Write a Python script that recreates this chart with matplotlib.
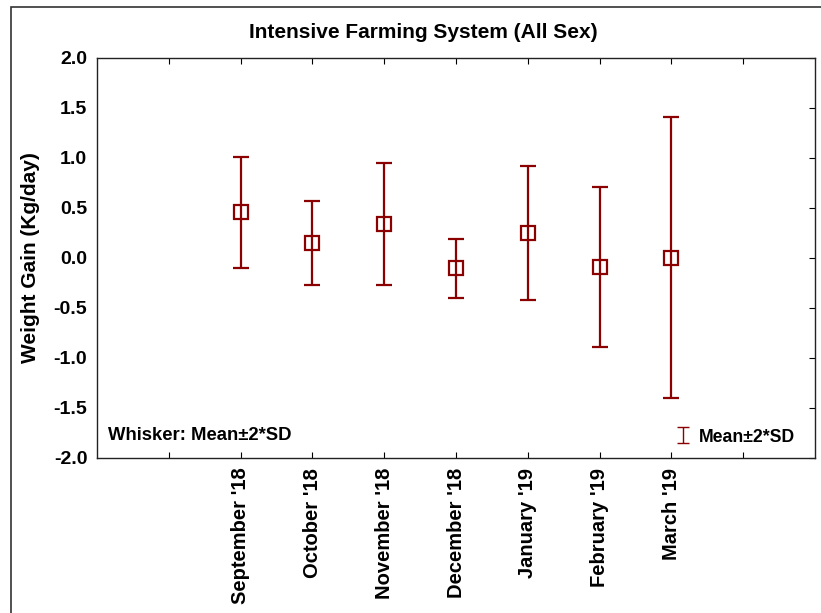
import matplotlib
matplotlib.use("Agg")
import matplotlib.pyplot as plt
from matplotlib.path import Path
from matplotlib.lines import Line2D
from matplotlib.patches import Rectangle

plt.rcParams['font.family'] = ['Liberation Sans', 'DejaVu Sans']
plt.rcParams['font.weight'] = 'bold'

months = ["September '18", "October '18", "November '18", "December '18",
          "January '19", "February '19", "March '19"]
means = [0.46, 0.155, 0.34, -0.10, 0.25, -0.09, 0.005]
two_sd = [0.555, 0.42, 0.61, 0.295, 0.67, 0.80, 1.408]
y_ticks = [-2.0, -1.5, -1.0, -0.5, 0.0, 0.5, 1.0, 1.5, 2.0]

color = '#8b0000'
W, H = 821, 613
fig = plt.figure(figsize=(W / 100, H / 100), dpi=100)

# outer frame of the figure
fig.patches.append(Rectangle((11 / W, -0.1), 1.2, (H - 7) / H + 0.1,
                             transform=fig.transFigure, fill=False,
                             edgecolor='#333333', linewidth=1.2))

ax = fig.add_axes([97 / W, 1 - 458 / H, (815 - 97) / W, (458 - 58) / H])

xpos = list(range(2, 2 + len(months)))
ax.errorbar(xpos, means, yerr=two_sd, fmt='s', color=color, ecolor=color,
            markerfacecolor='none', markeredgecolor=color, markersize=10.5,
            markeredgewidth=1.6, elinewidth=1.6, capsize=5.5, capthick=1.6)

ax.set_xlim(0, 10)
ax.set_ylim(-2.0, 2.0)
ax.set_xticks(range(1, 10))
ax.set_xticklabels([''] + months + [''], rotation=90, fontsize=14.5,
                   fontweight='bold')
ax.set_yticks(y_ticks)
ax.set_yticklabels([f'{v:.1f}' for v in y_ticks], fontsize=14,
                   fontweight='bold')
ax.tick_params(axis='y', left=False, right=True, direction='in', length=4,
               pad=7)
ax.tick_params(axis='x', bottom=True, top=True, direction='in', length=4,
               pad=7)
for s in ax.spines.values():
    s.set_linewidth(1.0)
    s.set_color('#222222')

ax.set_ylabel('Weight Gain (Kg/day)', fontsize=15, fontweight='bold')
ax.yaxis.set_label_coords(-(97 - 40) / (815 - 97), 0.5)

fig.text(423.5 / W, 1 - 33 / H, 'Intensive Farming System (All Sex)',
         ha='center', va='center', fontsize=15, fontweight='bold')

ax.text(0.015, 0.0575, 'Whisker: Mean\u00b12*SD', transform=ax.transAxes,
        ha='left', va='center', fontsize=13.3, fontweight='bold')

# legend key: a whisker glyph
whisker = Path([(-0.76, -1), (0.76, -1), (0, -1), (0, 1), (-0.76, 1), (0.76, 1)],
               [Path.MOVETO, Path.LINETO, Path.MOVETO, Path.LINETO,
                Path.MOVETO, Path.LINETO])
handle = Line2D([], [], linestyle='none', marker=whisker, markersize=11,
                markeredgecolor=color, markeredgewidth=1.0)
leg = ax.legend([handle], ['Mean\u00b12*SD'], loc='center right',
                bbox_to_anchor=((795 - 97) / (815 - 97), (458 - 437) / 400),
                frameon=False, prop={'size': 12.7, 'weight': 'bold'},
                handlelength=0.9, handletextpad=0.45, borderaxespad=0,
                borderpad=0)

fig.savefig('out.png', dpi=100)
